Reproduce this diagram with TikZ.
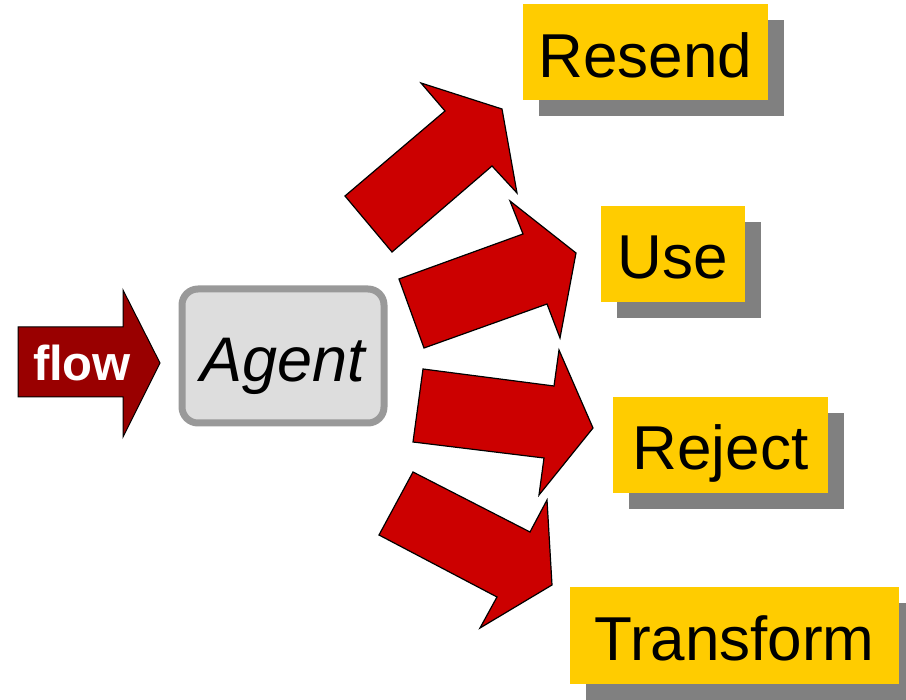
\documentclass[tikz,border=0pt]{standalone}
\usepackage{fontspec}
\setmainfont{Liberation Sans}
\usetikzlibrary{shadows}

\definecolor{arrowred}{HTML}{CC0000}
\definecolor{flowred}{HTML}{990000}
\definecolor{labelyellow}{HTML}{FFCC00}
\definecolor{agentgray}{HTML}{DDDDDD}
\definecolor{agentborder}{HTML}{999999}
\definecolor{shadowgray}{HTML}{808080}

\tikzset{
  bigarrow/.style={fill=arrowred, draw=black, line width=1.2pt, line join=miter},
  outcome/.style={fill=labelyellow, inner sep=0pt, minimum height=96pt,
    text height=50pt, text depth=0pt, font=\fontsize{62}{62}\selectfont,
    drop shadow={shadow xshift=16pt, shadow yshift=-16pt, fill=shadowgray, opacity=1}},
}

\begin{document}
\begin{tikzpicture}[x=1pt, y=-1pt]

\useasboundingbox (0,0) rectangle (906,700);
\clip (0,0) rectangle (906,700);

% incoming flow
\draw[fill=flowred, line width=1pt, line join=miter] (18,327) -- (123,327) -- (123,290) -- (160,363) -- (123,437) -- (123,397) -- (18,397) -- cycle;
\node[anchor=base, text=white, font=\fontsize{49}{49}\selectfont\bfseries] (flow) at (82,381) {flow};

\node[draw=agentborder, fill=agentgray, line width=7pt, rounded corners=16pt,
  minimum width=202pt, minimum height=134pt, inner sep=0pt, text height=52pt, text depth=0pt,
  font=\fontsize{63}{63}\selectfont\itshape] (agent) at (283,356) {Agent};

% outgoing arrows
\draw[bigarrow] (345,196) -- (445,111) -- (421,83) -- (502,109) -- (517,193) -- (492,166) -- (392,252) -- cycle;
\draw[bigarrow] (399,279) -- (523,234) -- (510,201) -- (576,253) -- (560,338) -- (547,304) -- (424,348) -- cycle;
\draw[bigarrow] (423,369) -- (554,386) -- (559,350) -- (593,428) -- (539,495) -- (544,458) -- (413,442) -- cycle;
\draw[bigarrow] (413,472) -- (530,532) -- (547,500) -- (552,585) -- (480,628) -- (497,597) -- (379,535) -- cycle;

\node[outcome, minimum width=245pt] (resend) at (645.5,52.5) {Resend};
\node[outcome, minimum width=144pt] (use) at (673,254) {Use};
\node[outcome, minimum width=215pt] (reject) at (720.5,445) {Reject};
\node[outcome, minimum width=329pt] (transform) at (734.5,635.5) {Transform};

\end{tikzpicture}
\end{document}
